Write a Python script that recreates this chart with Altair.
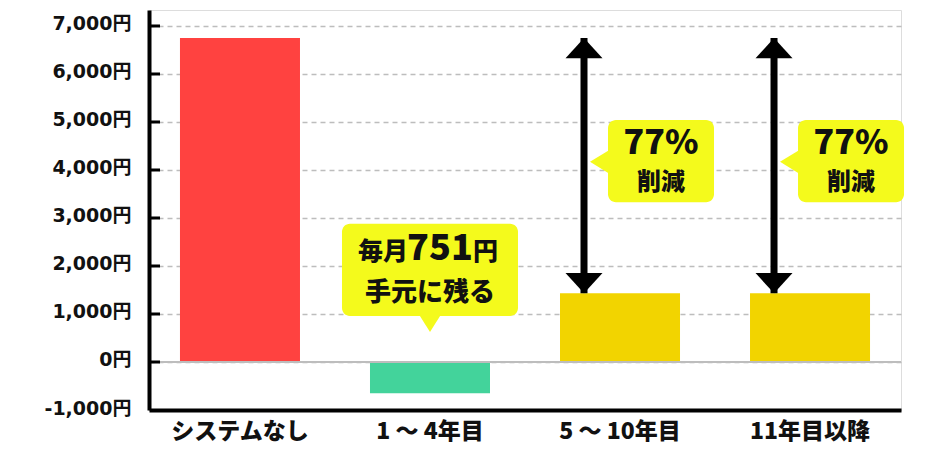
import altair as alt
import pandas as pd

FONT = "Noto Sans CJK JP"
YFONT = "DejaVu Sans, Noto Sans CJK JP"
WEIGHT = 900

# --- data ---
categories = ["システムなし", "1 〜 4年目", "5 〜 10年目", "11年目以降"]
values = [6750, -650, 1430, 1430]
bar_colors = ["#ff4240", "#43d39b", "#f2d400", "#f2d400"]

tick_values = [-1000, 0, 1000, 2000, 3000, 4000, 5000, 6000, 7000]

# arrows (from top of baseline bar down to reduced bar)
arrow_cats = ["5 〜 10年目", "11年目以降"]
arrow_top = [6750, 6750]
arrow_bottom = [1430, 1430]

# callouts for reduction
reduce_cats = ["5 〜 10年目", "11年目以降"]
reduce_box_top = [5040, 5040]
reduce_box_bottom = [3330, 3330]
reduce_pointer = [4170, 4170]
reduce_pct = ["77%", "77%"]
reduce_pct_y = [4330, 4330]
reduce_word = ["削減", "削減"]
reduce_word_y = [3730, 3730]

# callout for savings
save_cat = ["1 〜 4年目"]
save_box_top = [2880]
save_box_bottom = [960]
save_pointer = [625]
save_line1_y = [2130]
save_line1a = ["毎月"]
save_line1b = ["751"]
save_line1c = ["円"]
save_line2 = ["手元に残る"]
save_line2_y = [1430]

bars = pd.DataFrame({"cat": categories, "value": values, "color": bar_colors})
ticks_df = pd.DataFrame({"v": [t for t in tick_values if t >= 0]})
arrows = pd.DataFrame({"cat": arrow_cats, "top": arrow_top, "bottom": arrow_bottom})
red = pd.DataFrame({"cat": reduce_cats, "top": reduce_box_top, "bottom": reduce_box_bottom,
                    "ptr": reduce_pointer, "pct": reduce_pct, "pct_y": reduce_pct_y,
                    "word": reduce_word, "word_y": reduce_word_y})
sav = pd.DataFrame({"cat": save_cat, "top": save_box_top, "bottom": save_box_bottom,
                    "ptr": save_pointer, "y1": save_line1_y, "a": save_line1a,
                    "b": save_line1b, "c": save_line1c, "l2": save_line2, "y2": save_line2_y})

xscale = alt.Scale(domain=categories, paddingInner=0.3684, paddingOuter=0.163)
yscale = alt.Scale(domain=[-1000, 7333], nice=False, zero=False)

X = alt.X("cat:N", scale=xscale, sort=categories,
          axis=alt.Axis(title=None, labelAngle=0, ticks=False, domainColor="#000000",
                        domainWidth=4, labelFont=FONT, labelFontWeight=WEIGHT,
                        labelFontSize=23, labelColor="#111111", labelPadding=10, grid=False))

base_bars = alt.Chart(bars).mark_bar().encode(
    x=X,
    y=alt.Y("value:Q", scale=yscale,
            axis=alt.Axis(title=None, values=tick_values, ticks=False, domainColor="#000000",
                          domainWidth=4, labelFont=YFONT, labelFontWeight="bold",
                          labelFontSize=19, labelColor="#111111", labelPadding=18,
                          labelOffset=-2,
                          labelExpr="(datum.value < 0 ? '-' : '') + format(abs(datum.value), ',') + '円'",
                          grid=True, gridColor="#bdbdbd", gridDash=[5, 4], gridWidth=1.5)),
    y2=alt.datum(0),
    color=alt.Color("color:N", scale=None),
)

zero_rule = alt.Chart(pd.DataFrame({"z": [0]})).mark_rule(color="#bdbdbd", strokeWidth=2).encode(
    y=alt.Y("z:Q", scale=yscale)
)

ytick_marks = alt.Chart(ticks_df).mark_rule(color="#000000", strokeWidth=3).encode(
    y=alt.Y("v:Q", scale=yscale), x=alt.value(0), x2=alt.value(11)
)

# arrows
shaft = alt.Chart(arrows).mark_rule(color="#000000", strokeWidth=7, xOffset=-36).encode(
    x=alt.X("cat:N", scale=xscale, sort=categories),
    y=alt.Y("top:Q", scale=yscale), y2="bottom:Q",
)
head_up = alt.Chart(arrows).mark_point(shape="M0,0L1,1.1L-1,1.1Z", filled=True, opacity=1,
                                       color="#000000", size=1369, strokeWidth=0, xOffset=-36).encode(
    x=alt.X("cat:N", scale=xscale, sort=categories), y=alt.Y("top:Q", scale=yscale))
head_down = alt.Chart(arrows).mark_point(shape="M0,0L-1,-1.1L1,-1.1Z", filled=True, opacity=1,
                                         color="#000000", size=1369, strokeWidth=0, xOffset=-36).encode(
    x=alt.X("cat:N", scale=xscale, sort=categories), y=alt.Y("bottom:Q", scale=yscale))

YEL = "#f4fa1c"

red_box = alt.Chart(red).mark_bar(color=YEL, width=106, cornerRadius=8, xOffset=41).encode(
    x=alt.X("cat:N", scale=xscale, sort=categories),
    y=alt.Y("top:Q", scale=yscale), y2="bottom:Q")
red_ptr = alt.Chart(red).mark_point(shape="M0,0L1.8,-1.1L1.8,1.1Z", filled=True, opacity=1,
                                    color=YEL, size=484, strokeWidth=0, xOffset=-30).encode(
    x=alt.X("cat:N", scale=xscale, sort=categories), y=alt.Y("ptr:Q", scale=yscale))
red_pct = alt.Chart(red).mark_text(font=FONT, fontWeight=WEIGHT, fontSize=34, color="#111111",
                                   baseline="alphabetic", xOffset=41).encode(
    x=alt.X("cat:N", scale=xscale, sort=categories), y=alt.Y("pct_y:Q", scale=yscale), text="pct:N")
red_word = alt.Chart(red).mark_text(font=FONT, fontWeight=WEIGHT, fontSize=24, color="#111111",
                                    baseline="middle", xOffset=41).encode(
    x=alt.X("cat:N", scale=xscale, sort=categories), y=alt.Y("word_y:Q", scale=yscale), text="word:N")

sav_box = alt.Chart(sav).mark_bar(color=YEL, width=176, cornerRadius=8).encode(
    x=alt.X("cat:N", scale=xscale, sort=categories),
    y=alt.Y("top:Q", scale=yscale), y2="bottom:Q")
sav_ptr = alt.Chart(sav).mark_point(shape="M0,0L-1,-1.6L1,-1.6Z", filled=True, opacity=1,
                                    color=YEL, size=484, strokeWidth=0).encode(
    x=alt.X("cat:N", scale=xscale, sort=categories), y=alt.Y("ptr:Q", scale=yscale))
sav_a = alt.Chart(sav).mark_text(font=FONT, fontWeight=WEIGHT, fontSize=25, color="#111111",
                                 baseline="alphabetic", align="right", xOffset=-22).encode(
    x=alt.X("cat:N", scale=xscale, sort=categories), y=alt.Y("y1:Q", scale=yscale), text="a:N")
sav_b = alt.Chart(sav).mark_text(font=FONT, fontWeight=WEIGHT, fontSize=36, color="#111111",
                                 baseline="alphabetic", align="center", xOffset=10).encode(
    x=alt.X("cat:N", scale=xscale, sort=categories), y=alt.Y("y1:Q", scale=yscale), text="b:N")
sav_c = alt.Chart(sav).mark_text(font=FONT, fontWeight=WEIGHT, fontSize=25, color="#111111",
                                 baseline="alphabetic", align="left", xOffset=43).encode(
    x=alt.X("cat:N", scale=xscale, sort=categories), y=alt.Y("y1:Q", scale=yscale), text="c:N")
sav_l2 = alt.Chart(sav).mark_text(font=FONT, fontWeight=WEIGHT, fontSize=26, color="#111111",
                                  baseline="middle", align="center").encode(
    x=alt.X("cat:N", scale=xscale, sort=categories), y=alt.Y("y2:Q", scale=yscale), text="l2:N")

chart = alt.layer(
    base_bars, zero_rule, ytick_marks,
    shaft, head_up, head_down,
    red_box, red_ptr, red_pct, red_word,
    sav_box, sav_ptr, sav_a, sav_b, sav_c, sav_l2,
).properties(
    width=752, height=400,
    autosize=alt.AutoSizeParams(type="none"),
    padding={"left": 141, "top": 2, "right": 27, "bottom": 40},
).configure_view(stroke=None).configure(background="#ffffff")

chart.save("out.html", embed_options={"renderer": "svg", "actions": False})
